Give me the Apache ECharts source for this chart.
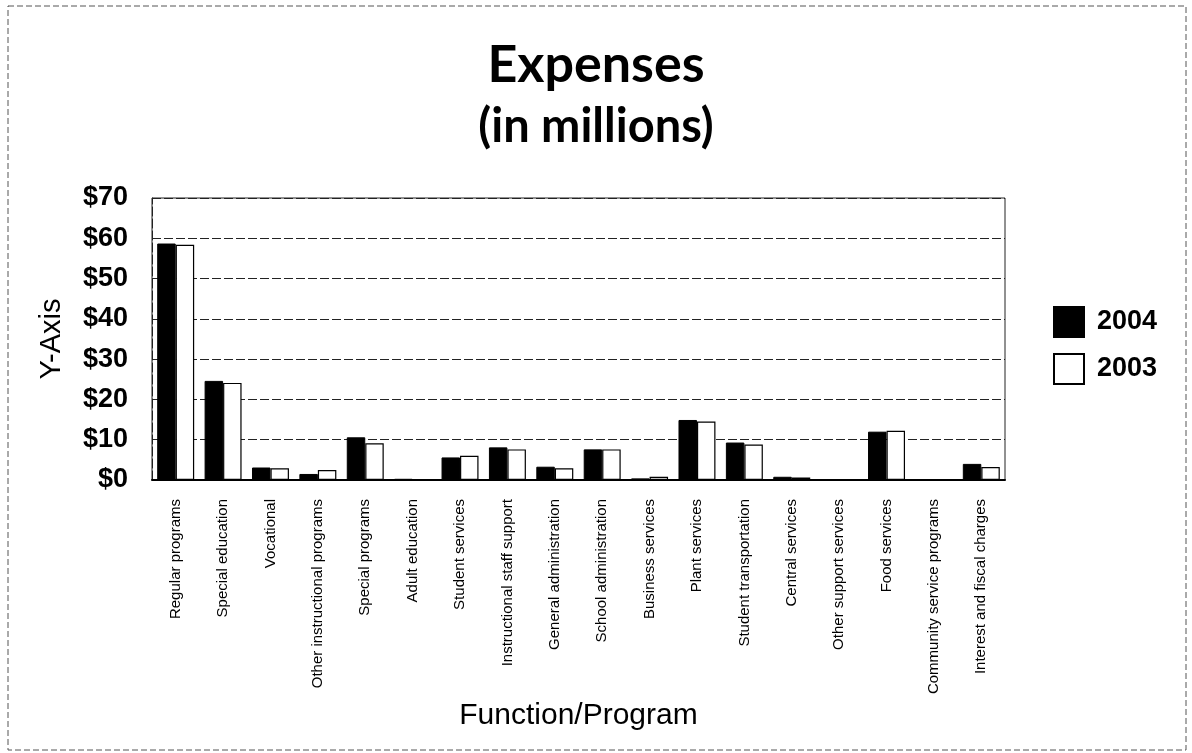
<!DOCTYPE html>
<html>
<head>
<meta charset="utf-8">
<script src="https://cdn.jsdelivr.net/npm/echarts@6/dist/echarts.min.js"></script>
<style>
  html, body { margin: 0; padding: 0; background: #fff; }
  #chart { width: 1192px; height: 753px; }
</style>
</head>
<body>
<div id="chart"></div>
<script>
// Expense categories (function / program)
const categories = [
  'Regular programs', 'Special education', 'Vocational', 'Other instructional programs',
  'Special programs', 'Adult education', 'Student services', 'Instructional staff support',
  'General administration', 'School administration', 'Business services', 'Plant services',
  'Student transportation', 'Central services', 'Other support services', 'Food services',
  'Community service programs', 'Interest and fiscal charges'
];

// Expenses in millions of dollars
const expenses2004 = [58.7, 24.6, 3.1, 1.5, 10.6, 0.3, 5.6, 8.1, 3.3, 7.6, 0.4, 14.9, 9.3, 0.8, 0.2, 12.0, 0.1, 4.0];
const expenses2003 = [58.4, 24.1, 2.9, 2.5, 9.1, 0.2, 6.0, 7.6, 2.9, 7.6, 0.8, 14.5, 8.8, 0.6, 0.1, 12.2, 0.1, 3.2];

const yTicks = { min: 0, max: 70, interval: 10 };

const chart = echarts.init(document.getElementById('chart'));

const lineStyleDashed = { color: '#222', width: 1, type: [9, 3] };

chart.setOption({
  backgroundColor: '#fff',
  animation: false,
  title: [
    {
      text: 'Expenses',
      left: 'center',
      top: 34,
      textStyle: { fontFamily: 'Lato', fontWeight: 'bold', fontSize: 52, color: '#000' }
    },
    {
      text: '(in millions)',
      left: 'center',
      top: 98,
      textStyle: { fontFamily: 'Lato', fontWeight: 'bold', fontSize: 47, color: '#000' }
    }
  ],
  graphic: [
    {
      type: 'rect',
      shape: { x: 8, y: 6, width: 1178, height: 744 },
      style: { fill: null, stroke: '#555', lineWidth: 1, lineDash: [6, 3] },
      silent: true
    }
  ],
  legend: {
    orient: 'vertical',
    left: 1048,
    top: 301,
    icon: 'rect',
    itemWidth: 30,
    itemHeight: 30,
    itemGap: 15,
    data: ['2004', '2003'],
    textStyle: { fontFamily: 'Liberation Sans', fontWeight: 'bold', fontSize: 27, color: '#000', padding: [0, 0, 0, 8] }
  },
  grid: {
    left: 152,
    right: 187,
    top: 198,
    bottom: 273,
    show: true,
    borderColor: '#222',
    borderWidth: 1
  },
  xAxis: {
    type: 'category',
    data: categories,
    name: 'Function/Program',
    nameLocation: 'middle',
    nameGap: 221,
    nameTextStyle: { fontFamily: 'Liberation Sans', fontSize: 30, color: '#000' },
    axisLine: { lineStyle: { color: '#000', width: 2 } },
    axisTick: { show: false },
    axisLabel: {
      interval: 0,
      rotate: 90,
      margin: 19,
      fontFamily: 'Liberation Sans',
      fontSize: 15,
      color: '#000'
    }
  },
  yAxis: {
    type: 'value',
    min: yTicks.min,
    max: yTicks.max,
    interval: yTicks.interval,
    name: 'Y-Axis',
    nameLocation: 'middle',
    nameGap: 86,
    nameTextStyle: { fontFamily: 'Liberation Sans', fontSize: 29, color: '#000' },
    axisLine: { show: true, lineStyle: lineStyleDashed },
    axisTick: { show: false },
    splitLine: { lineStyle: lineStyleDashed },
    axisLabel: {
      formatter: v => '$' + v,
      margin: 24,
      fontFamily: 'Liberation Sans',
      fontWeight: 'bold',
      fontSize: 27,
      color: '#000'
    }
  },
  series: [
    {
      name: '2004',
      type: 'bar',
      data: expenses2004,
      barGap: '0%',
      barCategoryGap: '22%',
      itemStyle: { color: '#000', borderColor: '#000', borderWidth: 1 }
    },
    {
      name: '2003',
      type: 'bar',
      data: expenses2003,
      itemStyle: { color: '#fff', borderColor: '#000', borderWidth: 1.2 }
    }
  ]
});
</script>
</body>
</html>
